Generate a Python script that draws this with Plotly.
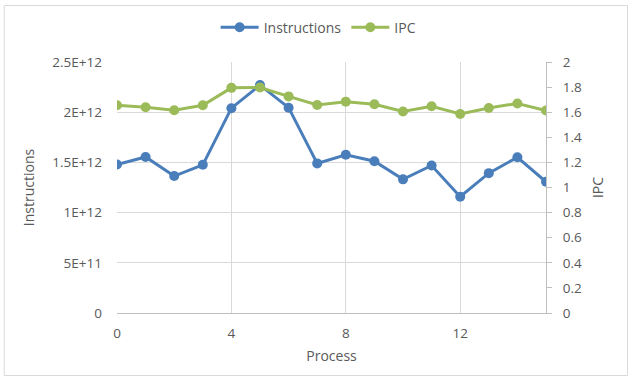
import plotly.graph_objects as go

process = list(range(16))
instructions = [1.479e12, 1.554e12, 1.364e12, 1.476e12, 2.04e12, 2.27e12, 2.045e12, 1.49e12,
                1.576e12, 1.512e12, 1.331e12, 1.469e12, 1.159e12, 1.393e12, 1.551e12, 1.307e12]
ipc = [1.655, 1.639, 1.615, 1.655, 1.794, 1.797, 1.726, 1.658,
       1.684, 1.663, 1.605, 1.647, 1.586, 1.634, 1.670, 1.613]

left_ticks = [0, 5e11, 1e12, 1.5e12, 2e12, 2.5e12]
left_labels = ["0", "5E+11", "1E+12", "1.5E+12", "2E+12", "2.5E+12"]
right_ticks = [0, 0.2, 0.4, 0.6, 0.8, 1, 1.2, 1.4, 1.6, 1.8, 2]
right_labels = ["0", "0.2", "0.4", "0.6", "0.8", "1", "1.2", "1.4", "1.6", "1.8", "2"]
x_ticks = [0, 4, 8, 12]

blue = "#4A7EBB"
green = "#9BBB59"
txt = "#595959"
font = "Open Sans, sans-serif"

fig = go.Figure()
fig.add_trace(go.Scatter(x=process, y=instructions, name="Instructions", mode="lines+markers",
                         line=dict(color=blue, width=3), marker=dict(size=10, color=blue)))
fig.add_trace(go.Scatter(x=process, y=ipc, name="IPC", mode="lines+markers", yaxis="y2",
                         line=dict(color=green, width=3), marker=dict(size=10, color=green)))

fig.update_layout(
    width=633, height=380,
    margin=dict(l=117, r=87, t=60, b=67),
    paper_bgcolor="white", plot_bgcolor="white",
    font=dict(family=font, size=13.5, color=txt),
    showlegend=True,
    legend=dict(orientation="h", x=0.47, xanchor="center", y=1.137, yanchor="middle",
                font=dict(size=14, color=txt), itemwidth=38),
    xaxis=dict(range=[0, 15], tickvals=x_ticks, showgrid=True, gridcolor="#d9d9d9",
               showline=True, linecolor="#bfbfbf", linewidth=1, zeroline=False,
               ticks="", ticklabelstandoff=8,
               title=dict(text="Process", standoff=9, font=dict(size=14, color=txt))),
    yaxis=dict(range=[0, 2.5e12], tickvals=left_ticks, ticktext=left_labels, showgrid=True,
               gridcolor="#d9d9d9", zeroline=False, showline=False, ticks="",
               ticklabelstandoff=14,
               title=dict(text="Instructions", standoff=14, font=dict(size=14, color=txt))),
    yaxis2=dict(range=[0, 2], tickvals=right_ticks, ticktext=right_labels, overlaying="y",
                side="right", showgrid=False, zeroline=False, showline=True,
                linecolor="#bfbfbf", ticks="outside", ticklen=5, tickcolor="#bfbfbf",
                ticklabelstandoff=8,
                title=dict(text="IPC", standoff=12, font=dict(size=14, color=txt))),
    shapes=[dict(type="rect", xref="paper", yref="paper",
                 x0=-0.263, x1=1.19, y0=-0.249, y1=1.225,
                 line=dict(color="#d9d9d9", width=1), fillcolor="rgba(0,0,0,0)", layer="below")],
)

fig.write_html("out.html", config={"displayModeBar": False},
               post_script="document.body.style.margin='0';")
